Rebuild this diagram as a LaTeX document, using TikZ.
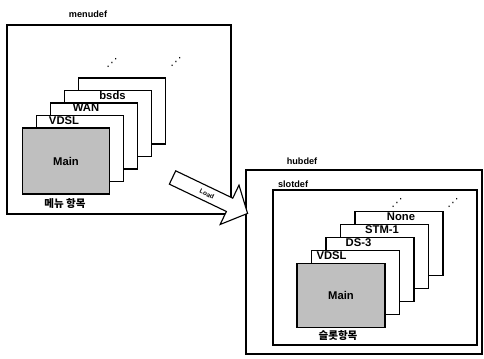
\documentclass[tikz,border=0pt]{standalone}
\usepackage{fontspec}
\setmainfont{Liberation Sans}
\newfontfamily\krfont{Noto Sans CJK KR}
\newfontfamily\symfont{DejaVu Sans}
\usetikzlibrary{shapes.arrows, positioning}

\begin{document}
\begin{tikzpicture}[x=0.025cm, y=-0.025cm,
    frame/.style={draw, thick, fill=white},
    mcard/.style={draw, thick, fill=white, minimum width=2.175cm, minimum height=1.65cm},
    scard/.style={draw, thick, fill=white, minimum width=2.2cm, minimum height=1.6cm},
    tag/.style={font=\fontsize{8}{9}\selectfont\bfseries, anchor=north, inner sep=0.8pt},
    boxlbl/.style={font=\fontsize{6.5}{8}\selectfont\bfseries, inner sep=1pt},
    krlbl/.style={font=\krfont\fontsize{7.5}{9}\selectfont\bfseries, inner sep=1pt},
    etc/.style={font=\symfont\fontsize{8}{8}\selectfont, inner sep=0pt}]
        \useasboundingbox (0,0) rectangle (484,359);

        % menudef box and its cards
        \node[frame, minimum width=5.6cm, minimum height=4.725cm] (menu) at (119,119.5) {};
        \node[boxlbl] (menulbl) at (88,14) {menudef};
        \node[etc] (mdots1) at (112,63) {⋰};
        \node[etc] (mdots2) at (176,62) {⋰};

        \node[mcard] (m5) at (122,111) {};
        \node[mcard, label={[tag, xshift=4.5*0.025cm]north:bsds}] (m4) at (108,123.5) {};
        \node[mcard, label={[tag, xshift=-8*0.025cm]north:WAN}] (m3) at (94,136) {};
        \node[mcard, label={[tag, xshift=-16*0.025cm]north:VDSL}] (m2) at (80,148.5) {};
        \node[mcard, fill=gray!50, font=\fontsize{8}{9}\selectfont\bfseries] (m1) at (66,161) {Main};
        \node[krlbl] (mitem) at (65,204) {메뉴 항목};

        % hubdef box with slotdef inside
        \node[frame, minimum width=5.9cm, minimum height=4.6cm] (hub) at (364,262) {};
        \node[boxlbl] (hublbl) at (302,161) {hubdef};
        \node[frame, minimum width=5.1cm, minimum height=3.875cm] (slot) at (375,267.5) {};
        \node[boxlbl, anchor=south west] (slotlbl) at ([xshift=0.1cm]slot.north west) {slotdef};
        \node[etc] (sdots1) at (397,203) {⋰};
        \node[etc] (sdots2) at (453,203) {⋰};

        \node[scard, label={[tag, xshift=2*0.025cm]north:None}] (s5) at (399,243.5) {};
        \node[scard, label={[tag, xshift=-2.5*0.025cm]north:STM-1}] (s4) at (384.5,256.5) {};
        \node[scard, label={[tag, xshift=-11.5*0.025cm]north:DS-3}] (s3) at (370,269.5) {};
        \node[scard, label={[tag, xshift=-24*0.025cm]north:VDSL}] (s2) at (355.5,282.5) {};
        \node[scard, fill=gray!50, font=\fontsize{8}{9}\selectfont\bfseries] (s1) at (341,295.5) {Main};
        \node[krlbl] (sitem) at (338,336) {슬롯항목};

        % Load arrow
        \node[single arrow, draw, thick, fill=white, rotate=-25.6, minimum height=2.08cm,
              single arrow head extend=0.36cm, single arrow tip angle=95, inner sep=3.2pt,
              font=\fontsize{4.5}{5}\selectfont\bfseries] (load) at (207,194) {Load};
\end{tikzpicture}
\end{document}
